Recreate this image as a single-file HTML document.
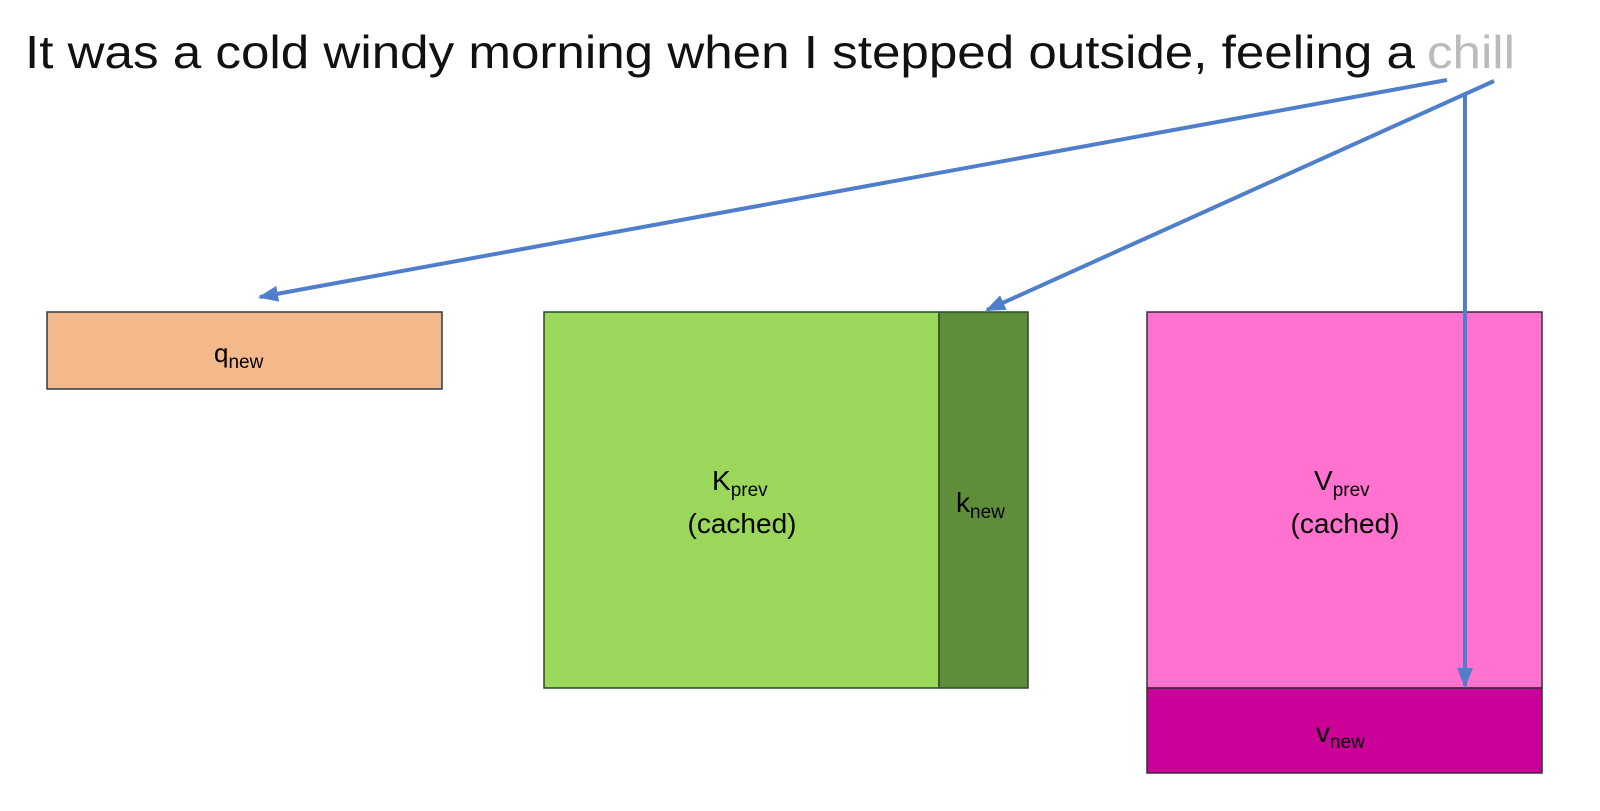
<!DOCTYPE html>
<html><head><style>html,body{margin:0;padding:0;background:#fff;overflow:hidden}svg{display:block}</style></head><body>
<svg width="1600" height="811" viewBox="0 0 1600 811" xmlns="http://www.w3.org/2000/svg" font-family="Liberation Sans, sans-serif">
<defs><marker id="b" markerWidth="20" markerHeight="16" refX="18" refY="8" orient="auto" markerUnits="userSpaceOnUse"><path d="M0,0 L20,8 L0,16 Z" fill="#4F7FCB"/></marker></defs>
<text x="25" y="68" font-size="46" textLength="1390" lengthAdjust="spacingAndGlyphs" fill="#111">It was a cold windy morning when I stepped outside, feeling a</text>
<text x="1427" y="68" font-size="46" textLength="88" lengthAdjust="spacingAndGlyphs" fill="#bbb">chill</text>
<rect x="47" y="312" width="395" height="77" fill="#F4B98B" stroke="#2d3a4a" stroke-width="1.5"/>
<text x="214" y="362" font-size="26">q<tspan font-size="19" dy="6">new</tspan></text>
<rect x="544" y="312" width="395" height="376" fill="#9BD75A" stroke="#2d4a2d" stroke-width="1.5"/>
<rect x="939" y="312" width="89" height="376" fill="#5E8E3A" stroke="#2d4a2d" stroke-width="1.5"/>
<text x="712" y="490" font-size="28">K<tspan font-size="19" dy="6">prev</tspan></text>
<text x="742" y="533" font-size="28" text-anchor="middle">(cached)</text>
<text x="956" y="512" font-size="28">k<tspan font-size="19" dy="6">new</tspan></text>
<rect x="1147" y="312" width="395" height="376" fill="#FF72CF" stroke="#3a2d3a" stroke-width="1.5"/>
<rect x="1147" y="688" width="395" height="85" fill="#CC0099" stroke="#3a2d3a" stroke-width="1.5"/>
<text x="1314" y="490" font-size="28">V<tspan font-size="19" dy="6">prev</tspan></text>
<text x="1345" y="533" font-size="28" text-anchor="middle">(cached)</text>
<text x="1316" y="742" font-size="28">v<tspan font-size="19" dy="6">new</tspan></text>
<g stroke="#4F7FCB" stroke-width="4" fill="none">
<line x1="1447" y1="80" x2="260" y2="297" marker-end="url(#b)"/>
<line x1="1494" y1="81" x2="987" y2="310" marker-end="url(#b)"/>
<line x1="1465" y1="93" x2="1465" y2="686" marker-end="url(#b)"/>
</g>
</svg>
</body></html>
